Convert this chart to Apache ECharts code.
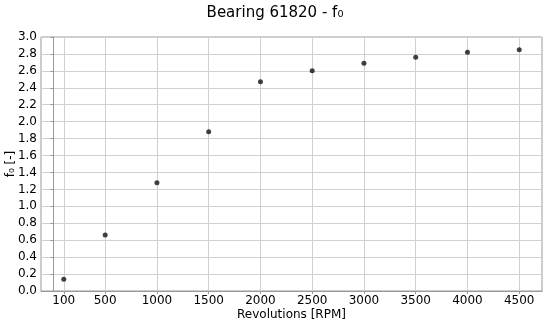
<!DOCTYPE html>
<html>
<head>
<meta charset="utf-8">
<script src="https://cdn.jsdelivr.net/npm/echarts@6/dist/echarts.min.js"></script>
<style>
  html, body { margin: 0; padding: 0; background: #fff; }
  #chart { width: 550px; height: 322px; }
</style>
</head>
<body>
<div id="chart"></div>
<script>
// revolutions in RPM and the measured f0 values
const rpm = [100, 500, 1000, 1500, 2000, 2500, 3000, 3500, 4000, 4500]
const f0 = [0.14, 0.66, 1.28, 1.88, 2.47, 2.60, 2.69, 2.76, 2.82, 2.85]
const xTicks = [100, 500, 1000, 1500, 2000, 2500, 3000, 3500, 4000, 4500]

const font = 'DejaVu Sans'
const chart = echarts.init(document.getElementById('chart'))

chart.setOption({
  animation: false,
  title: {
    text: 'Bearing 61820 - f\u2080',
    left: 'center',
    top: 1,
    textStyle: { fontFamily: font, fontSize: 15, fontWeight: 'normal', color: '#000' },
  },
  grid: {
    left: 41,
    right: 8,
    top: 37,
    bottom: 31,
    outerBoundsMode: 'none',
    containLabel: false,
    show: true,
    borderColor: '#999',
    borderWidth: 1,
  },
  xAxis: {
    type: 'value',
    min: -120,
    max: 4720,
    name: 'Revolutions [RPM]',
    nameLocation: 'middle',
    nameGap: 18,
    nameMoveOverlap: false,
    nameTextStyle: { fontFamily: font, fontSize: 12, color: '#000' },
    axisLine: { lineStyle: { color: '#999' } },
    axisTick: { customValues: xTicks, length: 3, lineStyle: { color: '#999' } },
    axisLabel: {
      customValues: xTicks,
      fontFamily: font,
      fontSize: 12,
      color: '#000',
      margin: 4,
      formatter: v => String(v),
    },
    splitLine: { show: true, lineStyle: { color: '#d0d0d0' } },
  },
  yAxis: {
    type: 'value',
    min: 0,
    max: 3,
    interval: 0.2,
    name: 'f\u2080 [-]',
    nameLocation: 'middle',
    nameGap: 24,
    nameMoveOverlap: false,
    nameTextStyle: { fontFamily: font, fontSize: 12, color: '#000' },
    axisLine: { show: true, lineStyle: { color: '#999' } },
    axisTick: { show: true, length: 3, lineStyle: { color: '#999' } },
    axisLabel: {
      fontFamily: font,
      fontSize: 12,
      color: '#000',
      margin: 4,
      formatter: v => v.toFixed(1),
    },
    splitLine: { show: true, lineStyle: { color: '#d0d0d0' } },
  },
  series: [
    {
      type: 'scatter',
      data: rpm.map((r, i) => [r, f0[i]]),
      symbol: 'circle',
      symbolSize: 5,
      itemStyle: { color: '#111' },
    },
  ],
})
</script>
</body>
</html>
